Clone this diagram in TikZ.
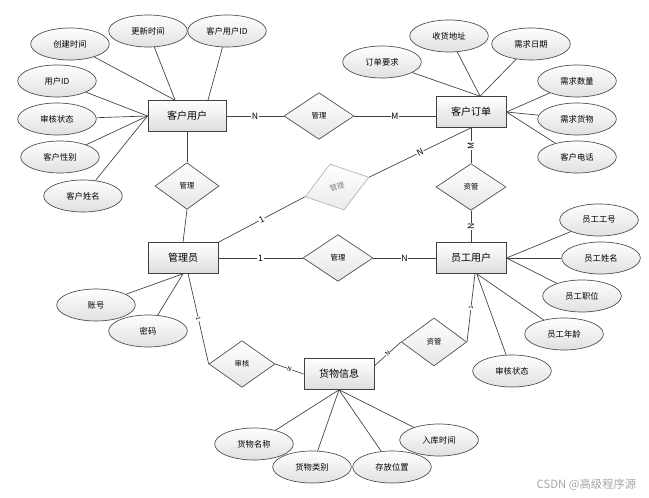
\documentclass[tikz,border=0pt]{standalone}
\usepackage{fontspec}
\setmainfont{Noto Sans CJK SC}
\usetikzlibrary{shapes.geometric,shadows}
\begin{document}
\begin{tikzpicture}[x=0.75pt,y=-0.75pt,
  ent/.style={rectangle,draw=black!75,line width=0.7pt,top color=white,bottom color=black!13,minimum width=52.5pt,minimum height=23pt,inner sep=0pt,font=\fontsize{7.5}{8}\selectfont,drop shadow={shadow xshift=0.8pt,shadow yshift=-0.8pt,opacity=0.35}},
  attr/.style={ellipse,draw=black!70,line width=0.5pt,top color=white,bottom color=black!12,minimum width=59pt,minimum height=24pt,inner sep=0pt,font=\fontsize{6.2}{7}\selectfont},
  rel/.style={diamond,draw=black!70,line width=0.5pt,top color=white,bottom color=black!10,minimum width=52.5pt,minimum height=35pt,inner sep=0pt,font=\fontsize{5.5}{6}\selectfont},
  ln/.style={draw=black!75,line width=0.5pt},
  card/.style={fill=white,inner sep=0.5pt,font=\fontsize{6.5}{7}\selectfont},
  scard/.style={fill=white,inner sep=0.3pt,font=\fontsize{4.5}{5}\selectfont,sloped}
]
\useasboundingbox (0,0) rectangle (649,498);
\fill[white] (0,0) rectangle (649,498);

% entities
\node[ent,minimum width=58.5pt] (kh) at (187,116) {客户用户};
\node[ent] (ko) at (471,112) {客户订单};
\node[ent] (gly) at (183,258) {管理员};
\node[ent] (yg) at (471,258) {员工用户};
\node[ent] (hw) at (339,374) {货物信息};

% relationships
\node[rel] (m1) at (319,116) {管理};
\node[rel,minimum width=48pt] (m2) at (187,186) {管理};
\node[rel,draw=black!30,top color=white,bottom color=black!8,text=black!50,minimum width=50pt,minimum height=36pt,rotate=17] (gm) at (337,187) {管理};
\node[rel] (zg) at (471,187) {资管};
\node[rel] (m3) at (338,258) {管理};
\node[rel,minimum width=49.5pt] (sh) at (242,364) {审核};
\node[rel,minimum width=49pt,minimum height=36pt] (zg2) at (434,342) {资管};

% attributes of 客户用户
\node[attr] (a1) at (70,44) {创建时间};
\node[attr] (a2) at (148,31) {更新时间};
\node[attr] (a3) at (227,31) {客户用户ID};
\node[attr] (a4) at (57,81) {用户ID};
\node[attr] (a5) at (57,119) {审核状态};
\node[attr] (a6) at (60,157) {客户性别};
\node[attr] (a7) at (83,196) {客户姓名};
% attributes of 客户订单
\node[attr] (b1) at (382,62) {订单要求};
\node[attr] (b2) at (449,36) {收货地址};
\node[attr] (b3) at (531,44) {需求日期};
\node[attr] (b4) at (577,81) {需求数量};
\node[attr] (b5) at (577,119) {需求货物};
\node[attr] (b6) at (577,157) {客户电话};
% attributes of 员工用户
\node[attr] (c1) at (599,220) {员工工号};
\node[attr] (c2) at (601,258) {员工姓名};
\node[attr] (c3) at (582,296) {员工职位};
\node[attr] (c4) at (564,334) {员工年龄};
\node[attr] (c5) at (512,371) {审核状态};
% attributes of 管理员
\node[attr] (d1) at (96,305) {账号};
\node[attr] (d2) at (148,331) {密码};
% attributes of 货物信息
\node[attr] (f1) at (254,444) {货物名称};
\node[attr] (f2) at (312,467) {货物类别};
\node[attr] (f3) at (392,467) {存放位置};
\node[attr] (f4) at (439,440) {入库时间};

% attribute lines
\draw[ln] (a1) -- (kh.127);
\draw[ln] (a2) -- (kh.127);
\draw[ln] (a3) -- (kh.37);
\draw[ln] (a4) -- (kh.west);
\draw[ln] (a5) -- (kh.west);
\draw[ln] (a6) -- (kh.west);
\draw[ln] (a7) -- (kh.west);
\draw[ln] (b1) -- (ko.60);
\draw[ln] (b2) -- (ko.60);
\draw[ln] (b3) -- (ko.60);
\draw[ln] (b4) -- (ko.east);
\draw[ln] (b5) -- (ko.east);
\draw[ln] (b6) -- (ko.east);
\draw[ln] (c1) -- (yg.east);
\draw[ln] (c2) -- (yg.east);
\draw[ln] (c3) -- (yg.east);
\draw[ln] (c4) -- (yg.-70);
\draw[ln] (c5) -- (yg.-70);
\draw[ln] (d1) -- (gly.south);
\draw[ln] (d2) -- (gly.south);
\draw[ln] (f1) -- (hw.south);
\draw[ln] (f2) -- (hw.south);
\draw[ln] (f3) -- (hw.south);
\draw[ln] (f4) -- (hw.south);

% relationship lines
\draw[ln] (kh.east) -- node[card] {N} (m1.west);
\draw[ln] (m1.east) -- node[card] {M} (m1.east -| ko.west);
\draw[ln] (kh.south) -- (m2.north);
\draw[ln] (m2.south) -- (gly.north);
\draw[ln] (gly.north east) -- node[card,sloped] {1} (gm.west);
\draw[ln] (gm.east) -- node[card,sloped] {N} (ko.south);
\draw[ln] (ko.south) -- node[card,rotate=90] {M} (zg.north);
\draw[ln] (zg.south) -- node[card,rotate=90] {N} (yg.north);
\draw[ln] (gly.east) -- node[card] {1} (m3.west);
\draw[ln] (m3.east) -- node[card] {N} (yg.west);
\draw[ln] (gly.-72) -- node[scard] {1} (sh.west);
\draw[ln] (sh.east) -- node[scard] {N} (hw.west);
\draw[ln] (hw.13) -- node[scard] {N} (zg2.west);
\draw[ln] (zg2.east) -- node[scard] {1} (yg.-76);

% watermark
\node[text=black!35,font=\fontsize{8.5}{9}\selectfont,anchor=east] (wm) at (641,485) {CSDN @高级程序源};
\end{tikzpicture}
\end{document}
